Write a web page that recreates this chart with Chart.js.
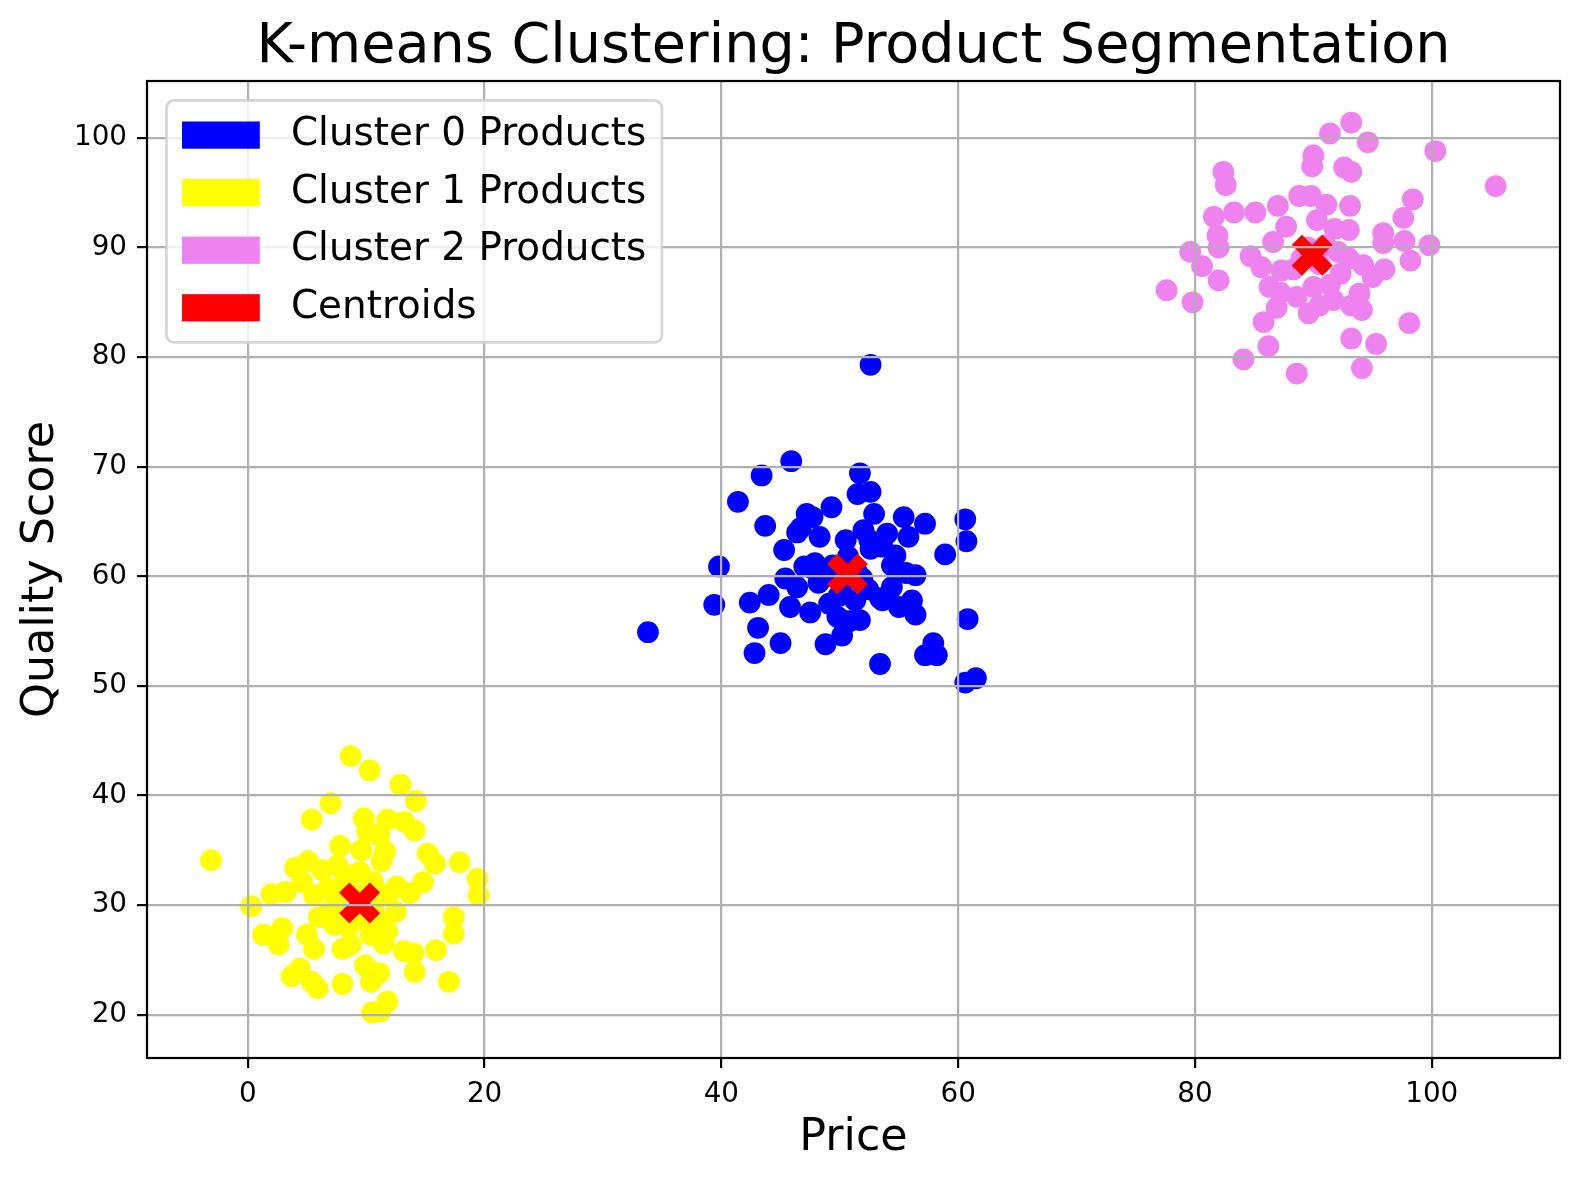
<!DOCTYPE html>
<html>
<head>
<meta charset="utf-8">
<script src="https://cdn.jsdelivr.net/npm/chart.js@4/dist/chart.umd.min.js"></script>
<style>
html,body{margin:0;padding:0;background:#fff;overflow:hidden;}
#wrap{width:1580px;height:1180px;}
canvas{display:block;}
</style>
</head>
<body>
<div id="wrap"><canvas id="c" width="1580" height="1180"></canvas></div>
<script>
// ---- data (Price, Quality Score) ----
const cluster0 = [
  [33.8,54.9],[39.4,57.4],[39.8,60.9],[41.4,66.8],[42.4,57.6],[42.8,53.0],[43.1,55.3],[43.4,69.2],
  [43.7,64.6],[44.0,58.3],[45.0,53.9],[45.3,62.4],[45.4,59.8],[45.8,57.2],[45.9,70.5],[46.4,64.0],
  [46.4,59.0],[46.7,64.4],[47.0,60.9],[47.2,65.7],[47.5,56.7],[47.7,60.7],[47.7,65.4],[47.9,61.2],
  [48.2,59.4],[48.3,63.6],[48.8,53.8],[49.1,57.5],[49.3,66.3],[49.8,56.3],[49.9,58.2],[50.2,56.0],
  [50.2,54.6],[50.5,63.3],[50.8,55.9],[51.3,57.8],[51.5,67.5],[51.7,69.4],[51.7,56.0],[52.0,64.2],
  [52.4,58.8],[52.5,63.3],[52.6,67.7],[52.6,79.3],[52.6,62.5],[52.9,65.7],[53.4,52.0],[53.4,58.0],
  [53.6,62.7],[53.6,57.8],[54.0,63.9],[54.4,61.0],[54.4,59.0],[54.7,61.9],[55.0,57.2],[55.4,65.4],
  [55.6,60.3],[55.8,63.6],[56.1,57.8],[56.4,60.1],[56.4,56.5],[57.2,64.8],[57.2,52.8],[57.9,53.9],
  [58.2,52.8],[58.9,62.0],[60.6,65.2],[60.7,63.2],[60.8,56.1],[60.6,50.3],[61.5,50.7],
  [49.4,61.0],[50.4,59.5],[51.4,60.5],[48.9,60.0],[50.7,61.8],[51.9,59.8]
];
const cluster1 = [
  [-3.1,34.1],[8.7,43.6],[10.3,42.3],[12.9,41.0],[14.2,39.5],[7.0,39.3],[5.4,37.8],[9.8,37.9],
  [11.8,37.8],[13.2,37.6],[14.1,36.8],[10.1,36.7],[11.1,36.4],[7.8,35.4],[9.6,35.0],[11.6,34.9],
  [11.3,34.0],[15.2,34.7],[15.8,33.8],[17.9,33.9],[19.4,32.4],[19.5,30.9],[14.8,32.1],[13.7,31.1],
  [12.6,31.7],[10.6,32.1],[11.8,30.9],[12.5,29.4],[10.6,29.7],[17.4,28.9],[17.4,27.4],[15.9,25.9],
  [14.0,25.6],[13.2,25.8],[14.1,23.9],[17.0,23.0],[11.5,26.5],[10.4,27.3],[11.8,27.6],[8.7,26.4],
  [9.9,24.5],[10.4,23.0],[11.1,23.8],[8.0,22.8],[11.8,21.2],[10.5,20.2],[11.2,20.3],
  [4.0,33.4],[5.1,34.0],[6.3,33.2],[4.6,32.1],[5.6,30.9],[2.0,31.0],[3.2,31.2],[0.3,29.9],
  [1.3,27.3],[2.9,27.9],[2.6,26.4],[5.0,27.3],[5.6,26.0],[6.0,28.9],[7.3,28.2],[8.0,26.0],
  [3.7,23.5],[4.4,24.2],[5.4,23.0],[5.9,22.4],
  [8.5,31.5],[7.5,30.5],[9.0,29.0],[8.2,32.8],[10.0,31.0],[9.5,33.0],[6.8,31.5],[7.0,29.5],
  [11.0,28.5],[8.5,28.0],[9.8,28.6],[7.6,33.6]
];
const cluster2 = [
  [77.6,86.1],[79.6,89.6],[79.8,85.0],[80.6,88.3],[81.6,92.8],[81.9,91.1],[82.0,90.0],[82.0,87.0],
  [82.4,96.9],[82.6,95.7],[83.3,93.2],[84.1,79.8],[84.7,89.2],[85.1,93.2],[85.6,88.2],[85.8,83.2],
  [86.2,81.0],[86.3,86.4],[86.6,90.5],[86.9,84.5],[87.0,93.8],[87.2,85.9],[87.3,87.9],[87.7,91.9],
  [88.3,88.0],[88.6,78.5],[88.6,85.5],[88.8,94.7],[89.6,84.0],[89.8,94.7],[89.9,97.4],[90.0,98.4],
  [90.0,86.4],[90.3,92.5],[90.5,84.7],[91.1,93.9],[91.4,100.4],[91.4,86.6],[91.7,85.2],[91.8,91.7],
  [92.1,89.6],[92.3,87.6],[92.6,97.3],[93.0,91.6],[93.1,93.8],[93.2,96.9],[93.2,101.4],[93.2,81.7],
  [93.2,84.7],[93.0,89.0],[93.9,85.8],[94.1,79.0],[94.1,84.3],[94.2,88.4],[94.6,99.6],[95.0,87.3],
  [95.3,81.2],[95.9,91.3],[95.9,90.4],[96.0,88.0],[97.6,92.7],[97.7,90.6],[98.1,83.1],[98.2,88.8],
  [98.4,94.4],[99.8,90.2],[100.3,98.8],[105.4,95.6],
  [89.5,90.0],[90.5,88.5],[89.0,89.0],[91.0,90.2]
];
const centroids = [[50.65,60.2],[9.45,30.2],[89.9,89.3]];

const seriesLabels = ['Cluster 0 Products','Cluster 1 Products','Cluster 2 Products','Centroids'];
const xTicks = [0,20,40,60,80,100];
const yTicks = [20,30,40,50,60,70,80,90,100];
const xRange = [-8.51, 110.83];
const yRange = [16.05, 105.19];

const FONT = "'DejaVu Sans', 'Liberation Sans', sans-serif";
const toPts = a => a.map(([x,y]) => ({x, y}));

const framePlugin = {
  id: 'frameAndLegend',
  afterDraw(chart) {
    const ctx = chart.ctx, ca = chart.chartArea;
    ctx.save();
    // axes frame (spines)
    ctx.strokeStyle = '#000';
    ctx.lineWidth = 2.2;
    ctx.strokeRect(ca.left, ca.top, ca.right - ca.left, ca.bottom - ca.top);
    // legend (upper left, inside axes)
    const fs = 38.9;
    ctx.font = fs + 'px ' + FONT;
    const ds = chart.data.datasets;
    const items = [0,1,2,3].map(i => ({label: ds[i].label, color: ds[i].legendColor}));
    const maxW = Math.max(...items.map(it => ctx.measureText(it.label).width));
    const pad = 0.4*fs, rowH = 0.98*fs, gap = 0.5*fs;
    const x0 = ca.left + 0.5*fs, y0 = ca.top + 0.5*fs;
    const w = 2*pad + 2*fs + 0.8*fs + maxW;
    const h = 2*pad + items.length*rowH + (items.length-1)*gap;
    ctx.beginPath();
    ctx.roundRect(x0, y0, w, h, 0.2*fs);
    ctx.fillStyle = 'rgba(255,255,255,0.8)';
    ctx.fill();
    ctx.lineWidth = 2.78;
    ctx.strokeStyle = 'rgba(204,204,204,0.8)';
    ctx.stroke();
    items.forEach((it, k) => {
      const cy = y0 + pad + rowH/2 + k*(rowH + gap);
      ctx.fillStyle = it.color;
      ctx.fillRect(x0 + pad, cy - 0.35*fs, 2*fs, 0.7*fs);
      ctx.fillStyle = '#000';
      ctx.textBaseline = 'middle';
      ctx.textAlign = 'left';
      ctx.fillText(it.label, x0 + pad + 2.8*fs, cy);
    });
    ctx.restore();
  }
};

const gridOpts = {color:'#b0b0b0', lineWidth:2.2, z:1, drawTicks:true, tickLength:10, tickColor:'#000', tickWidth:2.2};

new Chart(document.getElementById('c'), {
  type: 'scatter',
  data: {
    datasets: [
      {label: seriesLabels[0], data: toPts(cluster0), pointBackgroundColor:'#0000ff', legendColor:'#0000ff', pointRadius:10.9, pointBorderWidth:0, order:3},
      {label: seriesLabels[1], data: toPts(cluster1), pointBackgroundColor:'#ffff00', legendColor:'#ffff00', pointRadius:10.9, pointBorderWidth:0, order:2},
      {label: seriesLabels[2], data: toPts(cluster2), pointBackgroundColor:'#ee82ee', legendColor:'#ee82ee', pointRadius:10.9, pointBorderWidth:0, order:1},
      {label: seriesLabels[3], data: toPts(centroids), pointStyle:'crossRot', pointRadius:21.7, pointBorderWidth:14.5, pointBorderColor:'#ff0000', pointBackgroundColor:'#ff0000', legendColor:'#ff0000', order:0}
    ]
  },
  options: {
    responsive: false,
    animation: false,
    events: [],
    layout: {autoPadding: false, padding: {left:0, right:20, top:0, bottom:0}},
    plugins: {
      legend: {display:false},
      tooltip: {enabled:false},
      title: {display:true, fullSize:false, text:'K-means Clustering: Product Segmentation', color:'#000',
              font:{family:FONT, size:55.6, weight:'normal'}, padding:{top:14.3, bottom:0}}
    },
    scales: {
      x: {
        type:'linear', position:'bottom', min:xRange[0], max:xRange[1],
        afterBuildTicks: s => { s.ticks = xTicks.map(v => ({value:v})); },
        afterFit: s => { s.height = 122; s.paddingLeft = 0; s.paddingRight = 0; },
        grid: gridOpts, border:{display:false},
        ticks: {color:'#000', font:{family:FONT, size:27.8}, padding:10, maxRotation:0, autoSkip:false},
        title: {display:true, text:'Price', color:'#000', font:{family:FONT, size:44.4}, padding:{top:0, bottom:15}}
      },
      y: {
        type:'linear', position:'left', min:yRange[0], max:yRange[1],
        afterBuildTicks: s => { s.ticks = yTicks.map(v => ({value:v})); },
        afterFit: s => { s.width = 147; s.paddingTop = 0; s.paddingBottom = 0; },
        grid: gridOpts, border:{display:false},
        ticks: {color:'#000', font:{family:FONT, size:27.8}, padding:10, autoSkip:false},
        title: {display:true, text:'Quality Score', color:'#000', font:{family:FONT, size:44.4}, padding:{top:15, bottom:0}}
      }
    }
  },
  plugins: [framePlugin]
});
</script>
</body>
</html>
